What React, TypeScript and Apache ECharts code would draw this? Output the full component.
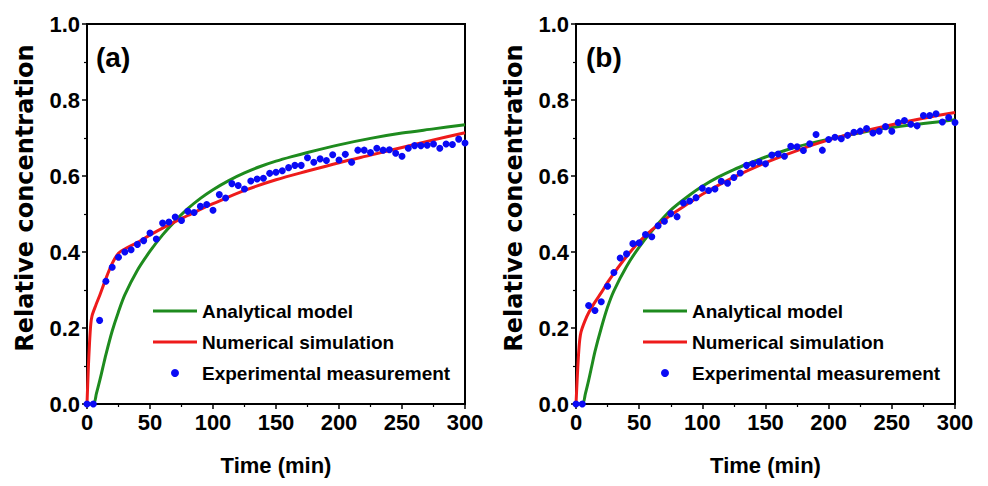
import React, { useEffect, useRef } from "react";
import * as echarts from "echarts";

const X_TICKS = [0, 50, 100, 150, 200, 250, 300];
const Y_TICKS = [0, 0.2, 0.4, 0.6, 0.8, 1.0];
const PANEL_LABELS = ["(a)", "(b)"];
const SERIES_NAMES = ["Analytical model", "Numerical simulation", "Experimental measurement"];

const TIME_EXP = [
  0, 5, 10, 15, 20, 25, 30, 35, 40, 45, 50, 55, 60, 65, 70, 75, 80, 85, 90, 95, 100,
  105, 110, 115, 120, 125, 130, 135, 140, 145, 150, 155, 160, 165, 170, 175, 180, 185, 190, 195, 200,
  205, 210, 215, 220, 225, 230, 235, 240, 245, 250, 255, 260, 265, 270, 275, 280, 285, 290, 295, 300,
];

const EXP_A = [
  0, 0, 0.22, 0.323, 0.36, 0.386, 0.4, 0.406, 0.42, 0.43, 0.45, 0.434, 0.476, 0.479, 0.492, 0.483, 0.507, 0.504, 0.52, 0.525, 0.51,
  0.551, 0.542, 0.58, 0.575, 0.566, 0.587, 0.592, 0.594, 0.607, 0.61, 0.614, 0.622, 0.628, 0.628, 0.648, 0.636, 0.645, 0.641, 0.656, 0.642,
  0.657, 0.636, 0.668, 0.668, 0.662, 0.673, 0.668, 0.669, 0.66, 0.652, 0.673, 0.68, 0.68, 0.681, 0.684, 0.673, 0.684, 0.683, 0.697, 0.687,
];

const EXP_B = [
  0, 0, 0.259, 0.246, 0.269, 0.31, 0.346, 0.384, 0.395, 0.422, 0.424, 0.446, 0.44, 0.469, 0.481, 0.501, 0.493, 0.529, 0.534, 0.543, 0.568,
  0.562, 0.566, 0.586, 0.581, 0.596, 0.608, 0.628, 0.632, 0.637, 0.632, 0.655, 0.658, 0.652, 0.678, 0.677, 0.667, 0.685, 0.709, 0.668, 0.696,
  0.702, 0.698, 0.707, 0.715, 0.718, 0.725, 0.713, 0.718, 0.73, 0.718, 0.741, 0.746, 0.736, 0.732, 0.759, 0.759, 0.764, 0.742, 0.754, 0.741,
];

const ANALYTICAL_T_A = [0, 5, 7.5, 10, 12.5, 15, 20, 25, 30, 40, 50, 60, 70, 80, 90, 100, 112.5, 125, 137.5, 150, 162.5, 175, 200, 225, 250, 275, 300];
const ANALYTICAL_A = [0, 0, 0.028, 0.06, 0.095, 0.13, 0.192, 0.243, 0.287, 0.352, 0.402, 0.445, 0.482, 0.514, 0.541, 0.564, 0.588, 0.608, 0.625, 0.639, 0.651, 0.662, 0.682, 0.699, 0.713, 0.724, 0.735];

const NUMERICAL_T_A = [0, 1, 2, 3, 4, 7, 10, 15, 20, 25, 30, 40, 50, 60, 70, 80, 90, 100, 125, 150, 175, 200, 225, 250, 275, 300];
const NUMERICAL_A = [0, 0.09, 0.16, 0.21, 0.232, 0.26, 0.285, 0.33, 0.37, 0.397, 0.408, 0.425, 0.445, 0.463, 0.48, 0.496, 0.512, 0.527, 0.562, 0.59, 0.613, 0.635, 0.655, 0.675, 0.695, 0.714];

const ANALYTICAL_T_B = [0, 5, 7.5, 10, 12.5, 15, 20, 25, 30, 40, 50, 60, 75, 90, 100, 112.5, 125, 137.5, 150, 175, 200, 225, 250, 275, 300];
const ANALYTICAL_B = [0, 0, 0.028, 0.062, 0.1, 0.138, 0.2, 0.255, 0.298, 0.362, 0.413, 0.455, 0.51, 0.55, 0.573, 0.597, 0.617, 0.634, 0.65, 0.677, 0.697, 0.714, 0.728, 0.738, 0.748];

const NUMERICAL_T_B = [0, 1, 2, 3, 4, 7, 10, 15, 20, 25, 30, 40, 50, 60, 75, 90, 100, 125, 150, 175, 200, 225, 250, 275, 300];
const NUMERICAL_B = [0, 0.07, 0.13, 0.17, 0.19, 0.218, 0.24, 0.268, 0.293, 0.32, 0.344, 0.388, 0.427, 0.458, 0.497, 0.53, 0.552, 0.597, 0.635, 0.667, 0.695, 0.716, 0.735, 0.752, 0.767];

const GREEN = "#1E8B1E";
const RED = "#EE1B1B";
const BLUE = "#0A0AF5";
const FONT = "Liberation Sans, Arial, sans-serif";

const zip = (xs: number[], ys: number[]) => xs.map((x, i) => [x, ys[i]]);

export default function App() {
  const ref = useRef<HTMLDivElement>(null);

  useEffect(() => {
    if (!ref.current) return;
    const chart = echarts.init(ref.current, null, { renderer: "svg" });

    const grids = [
      { left: 87, top: 24, width: 378, height: 380 },
      { left: 576, top: 24, width: 379, height: 380 },
    ];

    const xAxis = grids.map((_, i) => ({
      type: "value",
      gridIndex: i,
      min: X_TICKS[0],
      max: X_TICKS[X_TICKS.length - 1],
      interval: X_TICKS[1] - X_TICKS[0],
      name: "Time (min)",
      nameLocation: "middle",
      nameGap: 50,
      nameTextStyle: { fontFamily: FONT, fontWeight: "bold", fontSize: 22, color: "#000" },
      axisLine: { show: true, onZero: false, lineStyle: { color: "#000", width: 2 } },
      axisTick: { show: true, inside: false, length: 5, lineStyle: { color: "#000", width: 1.5 } },
      minorTick: { show: true, splitNumber: 2, length: 3, lineStyle: { color: "#000", width: 1.2 } },
      splitLine: { show: false },
      axisLabel: { margin: 7, fontFamily: FONT, fontWeight: "bold", fontSize: 22, color: "#000" },
    }));

    const yAxis = grids.map((_, i) => ({
      type: "value",
      gridIndex: i,
      min: Y_TICKS[0],
      max: Y_TICKS[Y_TICKS.length - 1],
      interval: 0.2,
      name: "Relative concentration",
      nameLocation: "middle",
      nameRotate: 90,
      nameGap: 50,
      nameTextStyle: {
        fontFamily: "DejaVu Sans, sans-serif",
        fontWeight: "bold",
        fontSize: 24,
        color: "#000",
        padding: [0, 0, 0, 32],
      },
      axisLine: { show: true, onZero: false, lineStyle: { color: "#000", width: 2 } },
      axisTick: { show: true, inside: false, length: 5, lineStyle: { color: "#000", width: 1.5 } },
      minorTick: { show: true, splitNumber: 2, length: 3, lineStyle: { color: "#000", width: 1.2 } },
      splitLine: { show: false },
      axisLabel: {
        margin: 7,
        fontFamily: FONT,
        fontWeight: "bold",
        fontSize: 22,
        color: "#000",
        formatter: (v: number) => v.toFixed(1),
      },
    }));

    const panels = [
      { analytical: zip(ANALYTICAL_T_A, ANALYTICAL_A), numerical: zip(NUMERICAL_T_A, NUMERICAL_A), exp: zip(TIME_EXP, EXP_A) },
      { analytical: zip(ANALYTICAL_T_B, ANALYTICAL_B), numerical: zip(NUMERICAL_T_B, NUMERICAL_B), exp: zip(TIME_EXP, EXP_B) },
    ];

    const series: any[] = [];
    panels.forEach((p, i) => {
      series.push({
        name: SERIES_NAMES[0],
        type: "line",
        xAxisIndex: i,
        yAxisIndex: i,
        data: p.analytical,
        symbol: "none",
        smooth: 0.3,
        lineStyle: { color: GREEN, width: 3 },
        itemStyle: { color: GREEN },
        z: 2,
      });
      series.push({
        name: SERIES_NAMES[1],
        type: "line",
        xAxisIndex: i,
        yAxisIndex: i,
        data: p.numerical,
        symbol: "none",
        smooth: 0.3,
        lineStyle: { color: RED, width: 3 },
        itemStyle: { color: RED },
        z: 3,
      });
      series.push({
        name: SERIES_NAMES[2],
        type: "scatter",
        xAxisIndex: i,
        yAxisIndex: i,
        data: p.exp,
        symbol: "circle",
        symbolSize: 7,
        itemStyle: { color: BLUE, opacity: 1 },
        z: 4,
      });
    });

    const LINE_ICON = "path://M0 0H44V3H0Z";
    const legendLefts = [153, 643];
    const legend = legendLefts.map((left) => ({
      left,
      top: 301,
      padding: 0,
      orient: "vertical",
      itemWidth: 44,
      itemHeight: 8,
      itemGap: 11,
      symbolKeepAspect: true,
      selectedMode: false,
      data: [
        { name: SERIES_NAMES[0], icon: LINE_ICON, itemStyle: { color: GREEN } },
        { name: SERIES_NAMES[1], icon: LINE_ICON, itemStyle: { color: RED } },
        { name: SERIES_NAMES[2], icon: "circle", itemStyle: { color: BLUE } },
      ],
      textStyle: { fontFamily: FONT, fontWeight: "bold", fontSize: 19, color: "#000", lineHeight: 20 },
    }));

    const labelLefts = [96, 586];
    const title = PANEL_LABELS.map((text, i) => ({
      text,
      left: labelLefts[i],
      top: 43,
      padding: 0,
      textStyle: { fontFamily: FONT, fontWeight: "bold", fontSize: 28, color: "#000" },
    }));

    chart.setOption({
      animation: false,
      backgroundColor: "#fff",
      title,
      legend,
      grid: grids.map((g) => ({ ...g, show: true, borderColor: "#000", borderWidth: 2, backgroundColor: "transparent" })),
      xAxis,
      yAxis,
      series,
    });

    return () => chart.dispose();
  }, []);

  return <div ref={ref} style={{ width: 988, height: 486, margin: -8 }} />;
}
